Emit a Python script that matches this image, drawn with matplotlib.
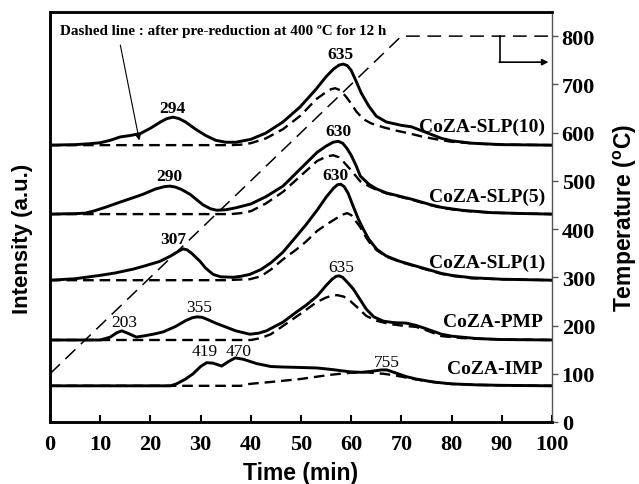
import matplotlib
matplotlib.use("Agg")
import matplotlib.pyplot as plt

# ---------------- data ----------------
temp_time = [0, 70, 100]
temp_vals = [100, 800, 800]

# baselines (vertical offsets of each trace, in a.u. on the shared scale)
samples = ["CoZA-SLP(10)", "CoZA-SLP(5)", "CoZA-SLP(1)", "CoZA-PMP", "CoZA-IMP"]
baselines = [574, 431, 294, 170, 75]

slp10_solid_t = [0, 5, 8, 10, 12, 14, 16, 18, 20, 22, 23.3, 24.5, 25.7, 27, 29, 31, 33, 35, 37, 40, 43,
                 46.4, 49.8, 53, 55, 56.5, 57.6, 58.4, 59.2, 60, 61, 62, 63.5, 65, 67, 70, 72, 74, 76,
                 78, 80, 84, 90, 100]
slp10_solid_i = [0, 1, 3, 5, 10, 17, 20, 24, 35, 48, 55, 58, 55, 48, 33, 20, 10, 6, 6, 12, 25,
                 48, 79, 116, 142, 158, 166, 168, 165, 155, 132, 108, 81, 60, 48, 41, 38, 30, 22,
                 14, 9, 4, 1, 0]
slp10_dash_t = [0, 36, 38, 40, 43, 46.4, 50, 53, 55, 56, 56.8, 57.8, 59, 60, 61, 62.4, 64, 66.4, 69,
                71.7, 74, 77, 80, 85, 90, 100]
slp10_dash_i = [0, 0, 1, 4, 14, 33, 62, 95, 110, 116, 118, 114, 100, 86, 70, 54, 45, 37, 30,
                24, 18, 12, 7, 3, 1, 0]

slp5_solid_t = [0, 5, 7, 8.6, 11, 14, 16, 18.5, 21, 22.8, 23.9, 25, 26.2, 27.9, 30.5, 32, 33.2, 35, 37,
                40, 43, 46.4, 50, 53.2, 55, 56.4, 57.4, 58.3, 59.1, 60, 61, 61.8, 63.5, 65.1, 67, 69.7,
                72, 74, 76, 78, 82, 88, 95, 100]
slp5_solid_i = [0, 1, 2, 6, 14, 25, 32, 41, 52, 57, 58, 56, 51, 41, 19, 11, 8, 9, 13,
                21, 36, 58, 95, 128, 141, 149, 151, 147, 137, 122, 100, 79, 62, 52, 44, 37,
                31, 25, 19, 14, 8, 3, 1, 0]
slp5_dash_t = [0, 36, 38, 40, 43, 46.4, 50, 53.2, 55, 56.4, 57.5, 58.5, 59.8, 61.8, 63.5, 65.1, 67, 69.7,
               72, 74, 76, 78, 82, 88, 95, 100]
slp5_dash_i = [0, 0, 2, 6, 22, 46, 80, 110, 119, 122, 118, 108, 93, 68, 58, 50, 43, 36,
               30, 24, 18, 13, 7, 3, 1, 0]

slp1_solid_t = [0, 5, 10, 13, 16.6, 19, 21.9, 24, 25.6, 26.5, 27.3, 28.3, 29.9, 31, 32.5, 34, 36.5, 38,
                39.8, 42, 44, 46.4, 49, 51, 53.2, 55, 56.5, 57.3, 57.9, 58.6, 59.4, 60.4, 61.5, 62.4,
                63.5, 65.1, 67, 69.7, 72, 75, 78, 80, 84, 90, 100]
slp1_solid_i = [0, 3, 10, 15, 23, 30, 39, 50, 60, 65, 63, 55, 39, 25, 12, 7, 6, 8,
                12, 22, 36, 58, 90, 115, 145, 172, 191, 198, 199, 194, 180, 153, 125, 106,
                85, 64, 50, 39, 32, 23, 14, 10, 5, 2, 0]
slp1_dash_t = [0, 35, 37, 39.8, 42, 44, 46.4, 49, 51, 53.2, 55, 57, 58.3, 59.2, 60, 60.8, 61.8, 63, 64,
               65.1, 67, 69.7, 72, 75, 78, 80, 84, 90, 100]
slp1_dash_i = [0, 0, 1, 2, 8, 22, 43, 63, 80, 102, 115, 128, 136, 139, 135, 124, 110, 88, 73,
               62, 49, 38, 31, 22, 13, 9, 4, 2, 0]

pmp_solid_t = [0, 10, 12, 13.3, 14.3, 15.5, 17.2, 19, 21, 22.6, 25, 27, 28.3, 29.3, 30.3, 31.5, 33, 34.5,
               37, 39.8, 41.5, 43.1, 46.4, 49.1, 51, 53.2, 55, 56.2, 57, 57.6, 58.3, 59.2, 60.4, 61.7,
               63, 64.5, 66.4, 68.5, 71, 73, 75, 78, 80, 85, 90, 100]
pmp_solid_i = [0, 0, 6, 15, 19, 14, 6, 9, 13, 17, 28, 40, 46, 48, 47, 42, 35, 29,
               19, 12, 14, 19, 37, 58, 72, 91, 113, 126, 132, 133, 130, 120, 106, 85,
               64, 48, 39, 36, 35, 30, 23, 12, 8, 3, 1, 0]
pmp_dash_t = [0, 40, 42, 44, 46.4, 50, 53.2, 55, 56.2, 57.2, 58.5, 59.8, 61.5, 63, 65, 67.7, 70, 73, 75,
              78, 82, 90, 100]
pmp_dash_i = [0, 0, 4, 12, 29, 55, 79, 88, 92, 93, 90, 81, 65, 50, 40, 33, 30, 27, 20,
              8, 4, 1, 0]

imp_solid_t = [0, 24, 25.2, 27, 28.5, 30, 31.2, 32.5, 34.2, 35.5, 36.9, 38.5, 41.2, 44, 46.4, 50, 53.2,
               56, 59.8, 62, 64, 66, 67.1, 68.5, 71, 73, 76.3, 80, 85, 90, 100]
imp_solid_i = [0, 0, 4, 14, 25, 40, 48, 47, 41, 50, 58, 55, 46, 40, 39, 38, 37,
               34, 29, 28, 30, 33, 33, 28, 19, 14, 8, 4, 2, 1, 0]
imp_dash_t = [0, 38, 39.8, 44, 49.8, 53.2, 56, 59.8, 63, 66.4, 68.5, 71, 73, 76.3, 80, 85, 90, 100]
imp_dash_i = [0, 0, 4, 8, 14, 19, 23, 27, 28, 25, 22, 17, 13, 8, 4, 2, 1, 0]

solid_series = [(slp10_solid_t, slp10_solid_i), (slp5_solid_t, slp5_solid_i),
                (slp1_solid_t, slp1_solid_i), (pmp_solid_t, pmp_solid_i), (imp_solid_t, imp_solid_i)]
dash_series = [(slp10_dash_t, slp10_dash_i), (slp5_dash_t, slp5_dash_i),
               (slp1_dash_t, slp1_dash_i), (pmp_dash_t, pmp_dash_i), (imp_dash_t, imp_dash_i)]

# peak labels: (text, time, level, bold)
peak_labels = [("294", 24.3, 651, True), ("635", 57.8, 763, True), ("290", 23.7, 510, True),
               ("630", 57.4, 603, True), ("630", 56.8, 512, True), ("307", 24.5, 379, True),
               ("635", 58.0, 321, False), ("203", 14.7, 207, False), ("355", 29.7, 238, False),
               ("419", 30.9, 147, False), ("470", 37.6, 147, False), ("755", 67.1, 124, False)]
sample_label_y = [613, 468, 332, 209, 110]
sample_label_x = [98.7, 98.7, 98.7, 98.2, 98.2]

x_ticks = list(range(0, 101, 10))
temp_ticks = list(range(0, 801, 100))

# ---------------- figure ----------------
serif = "Liberation Serif"
sans = "Liberation Sans"

fig = plt.figure(figsize=(6.39, 4.85), dpi=100)
ax = fig.add_axes([50 / 639, 1 - 423 / 485, 502 / 639, 410 / 485])
ax2 = ax.twinx()

for (t, i), b in zip(solid_series, baselines):
    ax.plot(t, [b + v for v in i], color="black", lw=2.1, solid_joinstyle="round")
for (t, i), b in zip(dash_series, baselines):
    ax.plot(t, [b + v for v in i], color="black", lw=1.7, dashes=(4.5, 2.5))

ax2.plot(temp_time, temp_vals, color="black", lw=1.1, dashes=(9, 5))

ax.set_xlim(0, 100)
ax.set_ylim(0, 850)
ax2.set_ylim(0, 850)

# peak labels
for txt, t, y, bold in peak_labels:
    ax.text(t, y, txt, ha="center", va="center", fontsize=12.5, family=serif,
            fontweight="bold" if bold else "normal")

# sample labels
for name, x, y in zip(samples, sample_label_x, sample_label_y):
    ax.text(x, y, name, ha="right", va="center", fontsize=14, family=serif, fontweight="bold")

# note
ax.text(2, 812, "Dashed line : after pre-reduction at 400 \u00baC for 12 h", ha="left", va="center",
        fontsize=10.9, family=serif, fontweight="bold")
ax.annotate("", xy=(17.9, 578), xytext=(13.9, 787),
            arrowprops=dict(arrowstyle="-|>", color="black", lw=0.8, mutation_scale=8))

# temperature axis pointer
ax2.plot([89.6, 89.6], [800, 746], color="black", lw=1.2)
ax2.annotate("", xy=(99.3, 746), xytext=(89.5, 746),
             arrowprops=dict(arrowstyle="-|>", color="black", lw=1.2, mutation_scale=9,
                             shrinkA=0, shrinkB=0))

# axes styling
ax.set_xticks(x_ticks)
ax.set_xticklabels([str(v) for v in x_ticks], family=serif, fontweight="bold", fontsize=16)
ax.tick_params(axis="x", direction="in", length=5, width=1.5, pad=9)
ax.set_yticks([])
ax2.set_yticks(temp_ticks)
ax2.set_yticklabels([str(v) for v in temp_ticks], family=serif, fontweight="bold", fontsize=16)
ax2.tick_params(axis="y", direction="out", length=4, width=1.0, color="#555555", pad=3)

for sp in ["left", "bottom", "top"]:
    ax.spines[sp].set_linewidth(1.8)
    ax2.spines[sp].set_linewidth(1.8)
ax2.spines["right"].set_linewidth(1.0)
ax2.spines["right"].set_color("#555555")
ax.spines["right"].set_visible(False)

ax.set_xlabel("Time (min)", family=sans, fontweight="bold", fontsize=16.5, labelpad=5)
ax.set_ylabel("Intensity (a.u.)", family=sans, fontweight="bold", fontsize=16)
ax.yaxis.set_label_coords(-17 / 502, 0.45)
ax2.set_ylabel("Temperature ($\\mathregular{^o}$C)", family=sans, fontweight="bold", fontsize=16.5)
ax2.yaxis.set_label_coords(1 + 60 / 502, 0.5)

fig.savefig("out.png", dpi=100)
